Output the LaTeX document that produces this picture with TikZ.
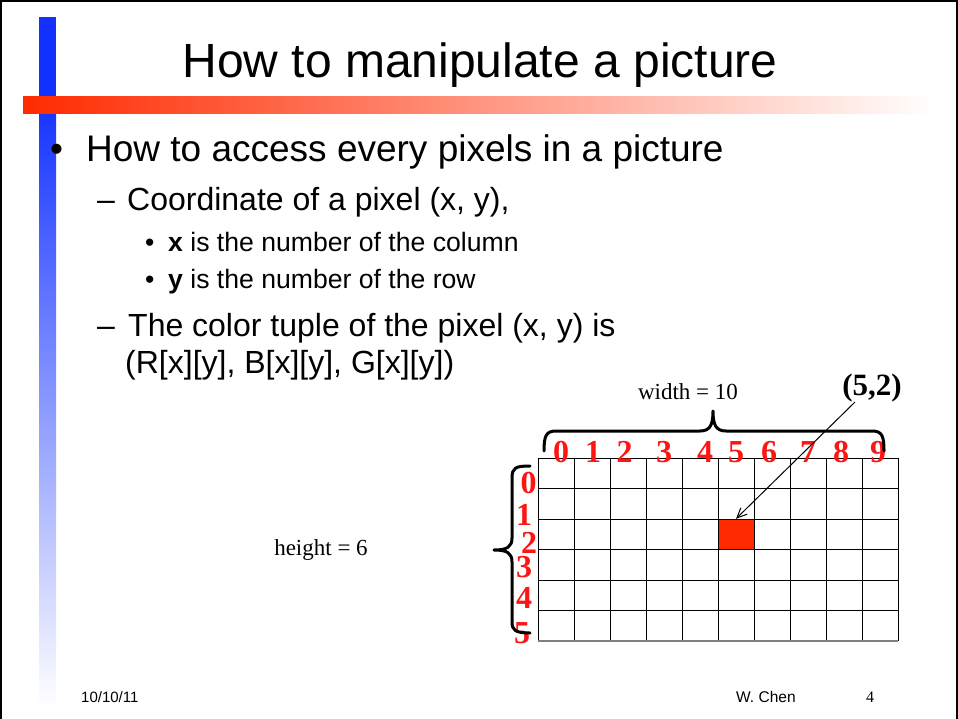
\documentclass[tikz,border=0pt]{standalone}
\usepackage{fontspec}
\setmainfont{Liberation Serif}
\setsansfont{Liberation Sans}
\usetikzlibrary{arrows.meta}
\definecolor{barblue}{RGB}{20,50,255}
\definecolor{barred}{RGB}{255,42,0}
\definecolor{lblred}{RGB}{255,20,20}
\begin{document}
\begin{tikzpicture}[x=1pt,y=-1pt,
  txt/.style={inner sep=0pt,anchor=base west,font=\sffamily},
  lbl/.style={inner sep=0pt,anchor=base,text=lblred,text height=21pt,text depth=0pt,font=\fontsize{32}{32}\selectfont\bfseries},
  bracepath/.style={line width=3pt,line cap=round,line join=round},
  cell/.style={draw=black,line width=0.9pt}]
\useasboundingbox (0,0) rectangle (958,719);
% frame
\draw[line width=1.5pt] (1,719) -- (1,1) -- (957,1) -- (957,719);
% decorative bars
\fill[barblue] (39,17) rectangle (56,100);
\shade[top color=barblue,bottom color=white] (39,100) rectangle (56,707);
\shade[left color=barred,right color=white] (23,97) rectangle (937,114);
% title
\node[inner sep=0pt,anchor=base,font=\sffamily\fontsize{48}{48}\selectfont] (title) at (480,78) {How to manipulate a picture};
% bullets
\node[txt,font=\sffamily\fontsize{37}{37}\selectfont] (b1) at (50,162) {•};
\node[txt,font=\sffamily\fontsize{37}{37}\selectfont] (l1) at (86,162) {How to access every pixels in a picture};
\node[txt,font=\sffamily\fontsize{32}{32}\selectfont] (d1) at (97,211) {–};
\node[txt,font=\sffamily\fontsize{32}{32}\selectfont] (l2) at (127,211) {Coordinate of a pixel (x, y),};
\node[txt,font=\sffamily\fontsize{26.6}{26.6}\selectfont] (b2) at (145,252) {•};
\node[txt,font=\sffamily\fontsize{26.6}{26.6}\selectfont] (l3) at (168,252) {\textbf{x} is the number of the column};
\node[txt,font=\sffamily\fontsize{26.6}{26.6}\selectfont] (b3) at (145,288) {•};
\node[txt,font=\sffamily\fontsize{26.6}{26.6}\selectfont] (l4) at (168,288) {\textbf{y} is the number of the row};
\node[txt,font=\sffamily\fontsize{32}{32}\selectfont] (d2) at (97,336) {–};
\node[txt,font=\sffamily\fontsize{32}{32}\selectfont] (l5) at (128,336) {The color tuple of the pixel (x, y) is};
\node[txt,font=\sffamily\fontsize{32}{32}\selectfont] (l6) at (125,373) {(R[x][y], B[x][y], G[x][y])};
% grid
\fill[barred] (718,519) rectangle (754,549.5);
\node[inner sep=0pt,minimum width=36pt,minimum height=30.5pt] (cell52) at (736,534.25) {};
\foreach \i in {0,...,10} {\draw[cell] (538+36*\i,458) -- (538+36*\i,641);}
\foreach \j in {0,...,5} {\draw[cell] (538,458+30.5*\j) -- (898,458+30.5*\j);}
\draw[line width=1.3pt,gray] (538,641) -- (898,641);
% column labels
\foreach \x/\t in {561/0,593/1,624.5/2,664/3,705/4,736/5,769/6,808/7,841/8,878/9}
  {\node[lbl] (c\t) at (\x,462) {\t};}
% row labels
\foreach \x/\y/\t in {528.5/493/0,524/525/1,529/553/2,524/577/3,524/608/4,522/643/5}
  {\node[lbl] (r\t) at (\x,\y) {\t};}
% braces
\draw[bracepath] (544,451) .. controls (544,436) and (546,431) .. (556,431) -- (700,431)
  .. controls (710,431) and (713,425) .. (713,411)
  .. controls (713,425) and (716,431) .. (726,431) -- (872,431)
  .. controls (882,431) and (884,436) .. (884,451);
\draw[bracepath] (530,466) .. controls (515,466) and (512,468) .. (512,478) -- (512,538)
  .. controls (512,547) and (507,550) .. (494,550)
  .. controls (507,550) and (512,553) .. (512,562) -- (512,622)
  .. controls (512,630) and (515,633) .. (530,633);
% labels
\node[inner sep=0pt,anchor=base,font=\fontsize{23}{23}\selectfont] (wlbl) at (688,399) {width = 10};
\node[inner sep=0pt,anchor=base,font=\fontsize{23}{23}\selectfont] (hlbl) at (321,555) {height = 6};
\node[inner sep=0pt,anchor=base,font=\fontsize{31}{31}\selectfont\bfseries] (pt52) at (872,395) {(5,2)};
\coordinate (astart) at (855,402);
\draw[line width=1pt,-{Straight Barb[length=10pt,width=9pt]}] (astart) -- (cell52.north);
% footer
\node[txt,font=\sffamily\fontsize{15}{15}\selectfont] (date) at (81,702) {10/10/11};
\node[txt,font=\sffamily\fontsize{15.5}{15.5}\selectfont] (auth) at (736,702) {W. Chen};
\node[inner sep=0pt,anchor=base west,font=\fontsize{16}{16}\selectfont] (pg) at (866,702) {4};
\end{tikzpicture}
\end{document}
